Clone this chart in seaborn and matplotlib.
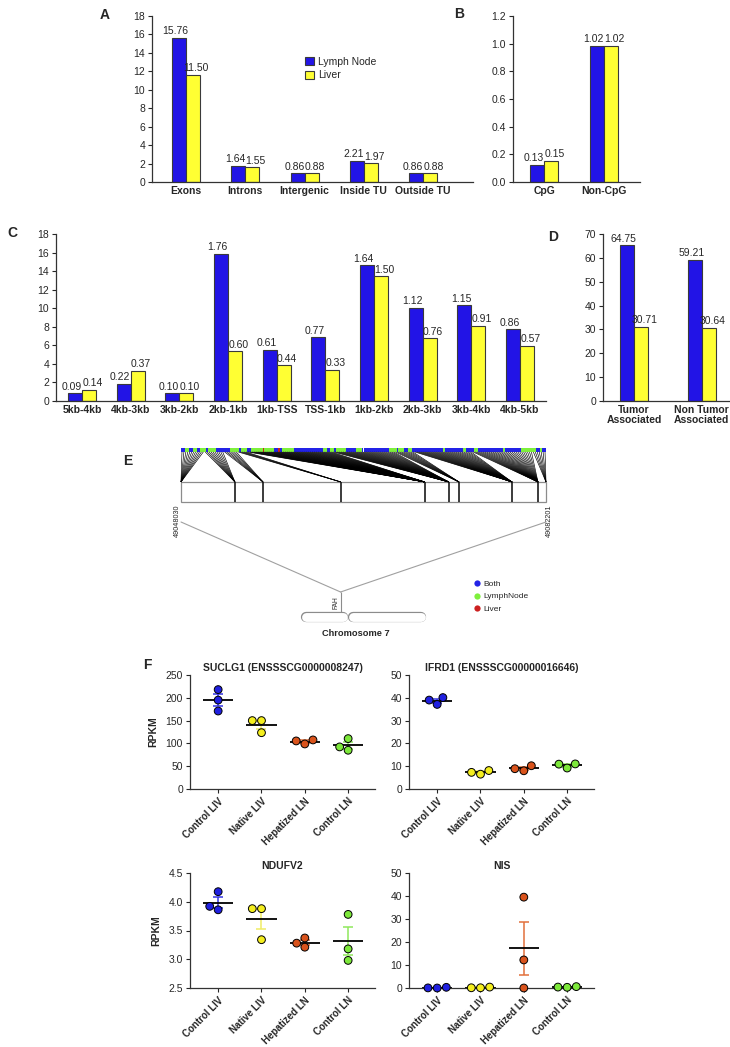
import numpy as np
import pandas as pd
import matplotlib
matplotlib.use('Agg')
import matplotlib.pyplot as plt
from matplotlib.collections import LineCollection
from matplotlib.patches import Rectangle, ConnectionPatch
from matplotlib.lines import Line2D
from matplotlib.ticker import FormatStrFormatter
import seaborn as sns

# ---------------- data ----------------
tissues = ['Lymph Node', 'Liver']

# A: genomic regions
region_cats = ['Exons', 'Introns', 'Intergenic', 'Inside TU', 'Outside TU']
region_ln = [15.66, 1.77, 0.94, 2.31, 0.94]
region_liv = [11.65, 1.62, 0.94, 2.02, 0.94]
region_ln_lbl = ['15.76', '1.64', '0.86', '2.21', '0.86']
region_liv_lbl = ['11.50', '1.55', '0.88', '1.97', '0.88']

# B: CpG context
cpg_cats = ['CpG', 'Non-CpG']
cpg_ln = [0.124, 0.986]
cpg_liv = [0.155, 0.986]
cpg_ln_lbl = ['0.13', '1.02']
cpg_liv_lbl = ['0.15', '1.02']

# C: distance to TSS
tss_cats = ['5kb-4kb', '4kb-3kb', '3kb-2kb', '2kb-1kb', '1kb-TSS',
            'TSS-1kb', '1kb-2kb', '2kb-3kb', '3kb-4kb', '4kb-5kb']
tss_ln = [0.83, 1.87, 0.83, 15.87, 5.51, 6.91, 14.65, 10.04, 10.33, 7.73]
tss_liv = [1.22, 3.28, 0.83, 5.36, 3.85, 3.38, 13.46, 6.77, 8.10, 5.96]
tss_ln_lbl = ['0.09', '0.22', '0.10', '1.76', '0.61', '0.77', '1.64', '1.12', '1.15', '0.86']
tss_liv_lbl = ['0.14', '0.37', '0.10', '0.60', '0.44', '0.33', '1.50', '0.76', '0.91', '0.57']

# D: tumor association
tumor_cats = ['Tumor\nAssociated', 'Non Tumor\nAssociated']
tumor_ln = [65.2, 59.2]
tumor_liv = [31.1, 30.7]
tumor_ln_lbl = ['64.75', '59.21']
tumor_liv_lbl = ['30.71', '30.64']

# E: FAH locus
gene_start, gene_end = 49048030, 49082201
exon_edges = [49048030, 49053080, 49055710, 49063000, 49070860,
              49073110, 49074060, 49079020, 49081450, 49082201]
sites_per_edge = [12, 10, 7, 5, 44, 32, 10, 30, 31, 7]
strip_classes = ['Both', 'LymphNode', 'Both', 'LymphNode', 'Both', 'LymphNode', 'Both', 'LymphNode',
                 'Both', 'LymphNode', 'Both', 'LymphNode', 'Both', 'LymphNode', 'Liver', 'LymphNode',
                 'Both', 'Liver', 'Both', 'LymphNode', 'Both', 'LymphNode', 'Both', 'LymphNode',
                 'Both', 'LymphNode', 'Both', 'LymphNode', 'Both', 'LymphNode', 'Both', 'LymphNode',
                 'Both', 'LymphNode', 'Both', 'LymphNode', 'Both', 'LymphNode', 'Both', 'LymphNode',
                 'Both', 'LymphNode', 'Both', 'LymphNode', 'Both', 'LymphNode', 'Both']
strip_lengths = [2, 2, 2, 2, 2, 3, 1, 4, 7, 5, 1, 3, 2, 6, 1, 5,
                 2, 1, 1, 6, 15, 2, 2, 2, 1, 5, 5, 3, 14, 4, 1, 3,
                 2, 2, 16, 1, 9, 2, 4, 2, 13, 1, 8, 8, 2, 1, 2]
chrom_len = 155.0e6
centromere = 58.3e6
fah_pos = 49065000

# F: RPKM per sample
groups = ['Control LIV', 'Native LIV', 'Hepatized LN', 'Control LN']
suclg1_rpkm = [[171, 218, 195], [150, 123.5, 150], [107.6, 98.8, 105.4], [85, 110.5, 92.3]]
ifrd1_rpkm = [[40.1, 37.1, 39.0], [8.1, 6.5, 7.3], [10.2, 8.0, 8.9], [11.0, 9.2, 10.9]]
ndufv2_rpkm = [[3.86, 4.175, 3.92], [3.88, 3.34, 3.88], [3.37, 3.21, 3.28], [3.78, 3.18, 2.98]]
nis_rpkm = [[0.3, 0.05, 0.0], [0.4, 0.1, 0.1], [39.5, 12.2, 0.0], [0.4, 0.6, 0.3]]

# ---------------- style ----------------
BLUE, YELLOW = '#2214e6', '#ffff33'
class_colors = {'Both': '#2323e6', 'LymphNode': '#7ef03c', 'Liver': '#cc2020'}
dot_colors = ['#2020e0', '#f4ee1e', '#d9531c', '#7de83a']
err_colors = ['#3535e6', '#f0ec66', '#e2703c', '#8fe85c']

sns.set_style('ticks')
plt.rcParams['font.family'] = ['Liberation Sans', 'DejaVu Sans']
plt.rcParams['axes.linewidth'] = 0.9
plt.rcParams['axes.edgecolor'] = '#333333'

W, H = 730, 1047
fig = plt.figure(figsize=(W / 100, H / 100), dpi=100)


def px_axes(left, top, right, bottom):
    return fig.add_axes([left / W, 1 - bottom / H, (right - left) / W, (bottom - top) / H])


def panel_letter(x, y, s):
    fig.text(x / W, 1 - y / H, s, fontsize=10, fontweight='bold', ha='center', va='center')


def bar_panel(ax, cats, ln, liv, ln_lbl, liv_lbl, ymax, ystep, width, xlim, fmt, legend=False):
    df = pd.DataFrame({'cat': cats * 2, 'val': ln + liv,
                       'tissue': [tissues[0]] * len(cats) + [tissues[1]] * len(cats)})
    sns.barplot(data=df, x='cat', y='val', hue='tissue', hue_order=tissues,
                palette=[BLUE, YELLOW], saturation=1, width=width,
                edgecolor='#3a3a3a', linewidth=0.8, ax=ax, legend=legend)
    # value labels, nudged apart so neighbouring labels do not collide
    for cont, lbls, dx in [(ax.containers[0], ln_lbl, -2.4), (ax.containers[1], liv_lbl, 2.4)]:
        for rect, lbl in zip(cont, lbls):
            ax.annotate(lbl, (rect.get_x() + rect.get_width() / 2, rect.get_height()),
                        xytext=(dx, 1), textcoords='offset points',
                        ha='center', va='bottom', fontsize=7.5)
    ax.set_ylim(0, ymax)
    ax.set_yticks(np.arange(0, ymax + ystep / 2, ystep))
    ax.yaxis.set_major_formatter(FormatStrFormatter(fmt))
    ax.set_xlim(*xlim)
    ax.set_xlabel('')
    ax.set_ylabel('')
    sns.despine(ax=ax)
    ax.tick_params(axis='x', length=0, labelsize=7.5, pad=3)
    ax.tick_params(axis='y', length=3, width=0.8, labelsize=7.5, pad=2)
    for t in ax.get_xticklabels():
        t.set_fontweight('bold')
        t.set_linespacing(1.0)


# A
axA = px_axes(152, 16, 473, 182)
bar_panel(axA, region_cats, region_ln, region_liv, region_ln_lbl, region_liv_lbl,
          18, 2, 0.47, (-0.573, 4.84), '%d', legend=True)
handles, labels = axA.get_legend_handles_labels()
axA.legend(handles, labels, loc='upper left', bbox_to_anchor=(0.478, 0.755), frameon=False,
           fontsize=7.5, handlelength=0.8, handleheight=0.8, handletextpad=0.4,
           labelspacing=0.35, borderpad=0, borderaxespad=0)
panel_letter(105, 15, 'A')

# B
axB = px_axes(513, 16, 640, 182)
bar_panel(axB, cpg_cats, cpg_ln, cpg_liv, cpg_ln_lbl, cpg_liv_lbl,
          1.2, 0.2, 0.48, (-0.517, 1.6), '%.1f')
panel_letter(459, 14, 'B')

# C
axC = px_axes(56, 234, 546, 401)
bar_panel(axC, tss_cats, tss_ln, tss_liv, tss_ln_lbl, tss_liv_lbl,
          18, 2, 0.58, (-0.535, 9.535), '%d')
panel_letter(12, 233, 'C')

# D
axD = px_axes(603, 234, 729, 401)
bar_panel(axD, tumor_cats, tumor_ln, tumor_liv, tumor_ln_lbl, tumor_liv_lbl,
          70, 10, 0.42, (-0.456, 1.40), '%d')
panel_letter(553, 237, 'D')

# E: locus view (y in pixel offsets from the axes top)
axE = px_axes(181, 440, 546, 530)
axE.set_xlim(gene_start, gene_end)
axE.set_ylim(90, 0)
axE.axis('off')
site_class = np.repeat(strip_classes, strip_lengths)
n_sites = len(site_class)
site_edges = np.linspace(gene_start, gene_end, n_sites + 1)
site_mid = (site_edges[:-1] + site_edges[1:]) / 2
site_target = np.repeat(exon_edges, sites_per_edge)
segs = [[(sx, 12), (tx, 42)] for sx, tx in zip(site_mid, site_target)]
axE.add_collection(LineCollection(segs, colors='black', linewidths=0.45, clip_on=False))
axE.bar(site_edges[:-1], 4, width=np.diff(site_edges), bottom=8, align='edge',
        color=[class_colors[c] for c in site_class], linewidth=0, clip_on=False)
axE.add_patch(Rectangle((gene_start, 42), gene_end - gene_start, 20, fill=False,
                        edgecolor='#8c8c8c', linewidth=0.9, clip_on=False))
axE.vlines(exon_edges[1:-1], 42, 62, color='#1a1a1a', linewidth=1.2)
axE.text(gene_start, 81, f'{gene_start}', rotation=90, ha='right', va='center', fontsize=5.2)
axE.text(gene_end, 81, f'{gene_end}', rotation=90, ha='left', va='center', fontsize=5.2)
panel_letter(128, 461, 'E')

axChr = px_axes(301, 585, 426, 640)
axChr.set_xlim(0, chrom_len)
axChr.set_ylim(55, 0)
axChr.axis('off')
half_cap = 5 * chrom_len / 125
for a, b in [(0, centromere), (centromere, chrom_len)]:
    axChr.plot([a + half_cap, b - half_cap], [32, 32], color='#8c8c8c', lw=7.4,
               solid_capstyle='round', clip_on=False)
    axChr.plot([a + half_cap, b - half_cap], [32, 32], color='white', lw=6.4,
               solid_capstyle='round', clip_on=False)
axChr.vlines(fah_pos, 7, 27, color='#8c8c8c', linewidth=0.8)
axChr.text(fah_pos - 0.8e6, 18, 'FAH', rotation=90, ha='right', va='center', fontsize=4.8)
axChr.text(chrom_len * 0.44, 48, 'Chromosome 7', ha='center', va='center',
           fontsize=6.7, fontweight='bold', clip_on=False)
for gx in (gene_start, gene_end):
    fig.add_artist(ConnectionPatch(xyA=(gx, 82), coordsA=axE.transData,
                                   xyB=(fah_pos, 7), coordsB=axChr.transData,
                                   color='#a0a0a0', linewidth=0.8))
leg_handles = [Line2D([], [], marker='o', linestyle='none', markersize=4.5,
                      markerfacecolor=class_colors[k], markeredgewidth=0) for k in class_colors]
fig.legend(leg_handles, list(class_colors), loc='upper left',
           bbox_to_anchor=(468 / W, 1 - 576 / H), frameon=False, fontsize=6,
           handletextpad=0.1, labelspacing=0.55, borderpad=0, handlelength=1.2)


# F: scatter panels
def rpkm_panel(ax, title, rpkm, ymin, ymax, ystep, fmt, ylabel):
    df = pd.DataFrame({'group': np.repeat(groups, [len(v) for v in rpkm]),
                       'rpkm': np.concatenate(rpkm)})
    for i, vals in enumerate(rpkm):
        vals = np.asarray(vals, dtype=float)
        m = vals.mean()
        sem = vals.std(ddof=1) / np.sqrt(len(vals))
        ax.errorbar(i, m, yerr=sem, color=err_colors[i], capsize=3.5, capthick=1.1,
                    elinewidth=1.1, zorder=2, clip_on=False)
        ax.hlines(m, i - 0.35, i + 0.35, color='black', linewidth=1.3, zorder=2.5)
    sns.swarmplot(data=df, x='group', y='rpkm', hue='group', order=groups, hue_order=groups,
                  palette=dot_colors, size=5.6, edgecolor='black', linewidth=0.7,
                  legend=False, ax=ax, zorder=3)
    for c in ax.collections:
        c.set_clip_on(False)
    ax.set_xlim(-0.65, 3.62)
    ax.set_ylim(ymin, ymax)
    ax.set_yticks(np.arange(ymin, ymax + ystep / 2, ystep))
    ax.yaxis.set_major_formatter(FormatStrFormatter(fmt))
    ax.set_xlabel('')
    ax.set_ylabel('RPKM' if ylabel else '', fontsize=7.5, fontweight='bold', labelpad=5)
    ax.set_title(title, fontsize=7.5, fontweight='bold', pad=3)
    sns.despine(ax=ax)
    ax.tick_params(axis='both', length=3, width=0.8, labelsize=7.5, pad=2)
    for t in ax.get_xticklabels():
        t.set_rotation(45)
        t.set_ha('right')
        t.set_rotation_mode('anchor')
        t.set_fontweight('bold')
        t.set_fontsize(7)


ax1 = px_axes(190, 675, 375, 789)
rpkm_panel(ax1, 'SUCLG1 (ENSSSCG0000008247)', suclg1_rpkm, 0, 250, 50, '%d', True)
ax2 = px_axes(409, 675, 594, 789)
rpkm_panel(ax2, 'IFRD1 (ENSSSCG00000016646)', ifrd1_rpkm, 0, 50, 10, '%d', False)
ax3 = px_axes(190, 873, 375, 988)
rpkm_panel(ax3, 'NDUFV2', ndufv2_rpkm, 2.5, 4.5, 0.5, '%.1f', True)
ax4 = px_axes(409, 873, 594, 988)
rpkm_panel(ax4, 'NIS', nis_rpkm, 0, 50, 10, '%d', False)
panel_letter(147, 665, 'F')

fig.savefig('out.png', dpi=100)
